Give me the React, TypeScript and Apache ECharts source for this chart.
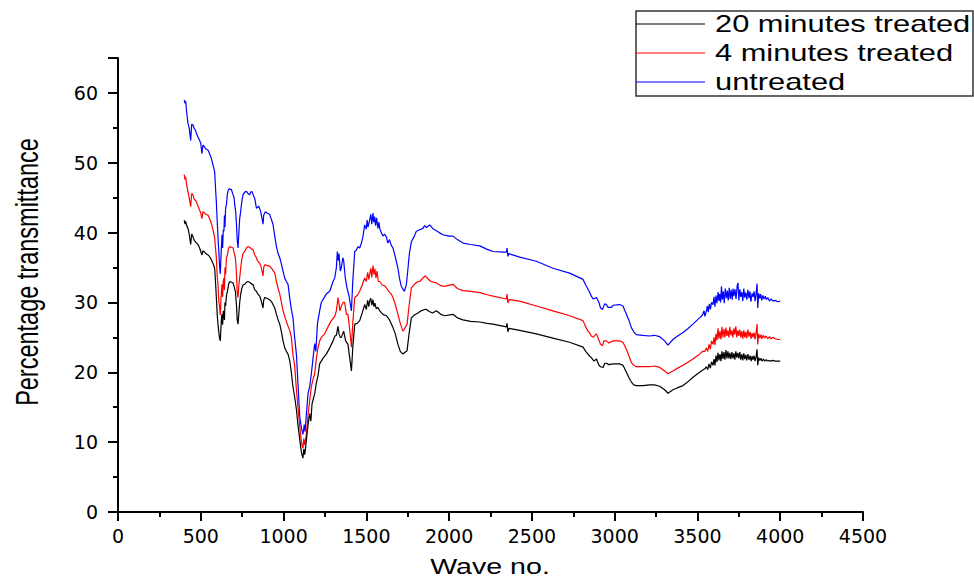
import React, { useEffect, useRef } from "react";
import * as echarts from "echarts";

const seriesNames = ["20 minutes treated", "4 minutes treated", "untreated"];
const seriesColors = ["#000000", "#ff0000", "#0000ff"];
const xTicks = { min: 0, max: 4500, interval: 500 };
const yTicks = { min: 0, max: 65, interval: 10 };

const untreated: number[][] = [
  [400, 59.0], [405, 58.5], [409, 58.8], [415, 57.2], [423, 55.6], [430, 55.0], [439, 53.2], [445, 55.5], [453, 55.4], [460, 54.9], [467, 54.7], [474, 54.2], [483, 53.7], [493, 53.2], [500, 52.8], [507, 51.3], [513, 52.5], [519, 52.4], [530, 52.0], [544, 51.8], [555, 51.2], [564, 50.6], [575, 49.6], [584, 48.7], [590, 46.0], [594, 44.4], [600, 41.3], [606, 38.5], [610, 36.9], [614, 35.0], [618, 34.1], [622, 36.5], [626, 38.5], [628, 39.7], [632, 37.8], [636, 40.4], [640, 40.2], [643, 42.5], [646, 40.8], [650, 43.5], [655, 44.0], [660, 45.4], [664, 45.9], [670, 46.3], [675, 46.2], [685, 46.2], [695, 45.4], [701, 45.0], [706, 43.8], [711, 43.0], [716, 41.0], [720, 39.0], [725, 37.8], [730, 40.0], [735, 42.0], [741, 43.0], [748, 44.5], [755, 45.4], [765, 45.8], [776, 45.9], [785, 45.6], [795, 45.4], [802, 45.8], [809, 45.9], [815, 45.5], [826, 44.9], [836, 43.5], [842, 43.6], [850, 43.8], [856, 43.4], [862, 43.0], [870, 42.0], [876, 41.2], [880, 42.5], [890, 43.0], [900, 42.8], [916, 42.6], [925, 42.0], [936, 41.2], [947, 39.5], [957, 38.0], [967, 37.0], [977, 36.4], [987, 35.5], [997, 34.5], [1007, 33.5], [1017, 33.0], [1027, 32.6], [1037, 30.7], [1047, 29.0], [1057, 27.8], [1067, 25.0], [1078, 22.5], [1087, 18.4], [1098, 13.6], [1108, 12.0], [1117, 11.1], [1125, 12.5], [1130, 11.5], [1138, 14.1], [1148, 17.0], [1158, 18.0], [1168, 19.8], [1178, 22.0], [1188, 24.1], [1195, 23.0], [1205, 27.0], [1218, 28.8], [1228, 30.0], [1238, 30.4], [1258, 31.2], [1279, 31.6], [1299, 33.0], [1309, 33.5], [1319, 35.0], [1325, 37.3], [1329, 36.0], [1335, 37.0], [1343, 34.5], [1349, 35.0], [1358, 36.4], [1363, 36.0], [1373, 33.5], [1383, 32.1], [1395, 31.0], [1410, 28.8], [1418, 33.0], [1430, 37.3], [1440, 37.5], [1450, 38.0], [1460, 37.8], [1470, 38.5], [1480, 39.5], [1490, 41.1], [1500, 40.5], [1505, 41.8], [1510, 40.8], [1520, 41.8], [1527, 42.6], [1533, 41.2], [1540, 42.8], [1545, 41.5], [1550, 42.3], [1556, 41.0], [1562, 42.1], [1570, 40.6], [1576, 41.5], [1581, 40.6], [1590, 40.0], [1600, 39.5], [1610, 39.8], [1621, 39.4], [1630, 38.5], [1640, 39.0], [1650, 38.2], [1661, 37.8], [1670, 37.0], [1680, 36.0], [1691, 34.9], [1700, 33.5], [1710, 32.4], [1721, 31.9], [1730, 31.6], [1742, 32.6], [1750, 34.5], [1760, 37.0], [1772, 38.7], [1790, 39.5], [1802, 40.2], [1822, 40.4], [1842, 40.6], [1852, 41.0], [1863, 40.7], [1872, 40.9], [1883, 41.1], [1900, 40.6], [1913, 40.4], [1940, 40.0], [1963, 39.7], [2000, 39.5], [2023, 39.5], [2050, 39.0], [2084, 38.5], [2130, 38.3], [2185, 38.1], [2230, 37.6], [2265, 37.3], [2330, 37.2], [2346, 37.2], [2350, 37.8], [2355, 36.6], [2360, 37.0], [2426, 36.5], [2527, 35.9], [2627, 34.9], [2728, 34.2], [2809, 33.3], [2825, 32.5], [2839, 31.9], [2850, 31.4], [2859, 30.9], [2870, 30.5], [2890, 30.7], [2905, 30.0], [2915, 29.2], [2926, 29.0], [2940, 29.8], [2950, 29.7], [2960, 29.3], [2980, 29.3], [2990, 29.6], [3030, 29.7], [3050, 29.5], [3071, 28.3], [3085, 27.5], [3101, 26.4], [3115, 25.8], [3131, 25.4], [3170, 25.3], [3211, 25.2], [3240, 25.3], [3272, 25.1], [3302, 24.5], [3322, 23.9], [3352, 24.7], [3380, 25.2], [3413, 25.7], [3440, 26.2], [3473, 26.9], [3495, 27.4], [3513, 27.8], [3530, 28.2], [3540, 28.8], [3545, 28.0], [3554, 28.8], [3560, 29.5], [3565, 28.6], [3572, 29.8], [3578, 29.0], [3585, 30.0], [3594, 29.7], [3600, 30.8], [3606, 29.4], [3612, 31.0], [3618, 29.9], [3625, 31.5], [3630, 30.2], [3634, 31.2], [3640, 30.0], [3645, 32.3], [3650, 30.4], [3656, 31.6], [3662, 29.9], [3668, 32.0], [3675, 30.6], [3680, 31.7], [3686, 30.3], [3692, 32.1], [3698, 30.5], [3704, 31.8], [3710, 30.4], [3715, 32.0], [3720, 30.9], [3727, 31.9], [3733, 30.5], [3740, 32.4], [3745, 32.8], [3750, 30.3], [3756, 31.9], [3762, 30.8], [3768, 31.5], [3774, 30.2], [3780, 32.0], [3786, 30.7], [3792, 31.4], [3798, 30.4], [3805, 31.8], [3811, 30.6], [3817, 31.6], [3823, 30.1], [3830, 31.3], [3836, 30.8], [3842, 31.6], [3848, 30.2], [3854, 31.2], [3860, 32.7], [3864, 29.2], [3870, 31.3], [3876, 30.6], [3882, 31.2], [3888, 30.3], [3895, 31.0], [3902, 30.5], [3910, 30.9], [3916, 30.4], [3925, 30.7], [3935, 30.2], [3945, 30.5], [3956, 30.2], [3970, 30.3], [3985, 30.1], [4000, 30.2],
];

const fourMinutes: number[][] = [
  [400, 48.3], [405, 47.6], [409, 48.0], [415, 46.8], [423, 45.8], [430, 45.0], [439, 43.7], [445, 45.6], [453, 45.4], [460, 44.8], [467, 44.6], [474, 44.4], [483, 43.8], [493, 43.2], [500, 42.8], [507, 42.0], [513, 43.0], [519, 42.9], [530, 42.6], [544, 42.5], [555, 41.9], [564, 41.3], [575, 40.3], [584, 39.2], [590, 37.5], [594, 36.4], [600, 33.5], [604, 32.6], [608, 30.5], [614, 29.2], [618, 28.2], [622, 30.5], [626, 32.0], [628, 32.6], [632, 30.8], [636, 33.0], [640, 33.5], [643, 31.8], [646, 35.0], [650, 34.0], [655, 36.4], [661, 36.8], [668, 37.8], [675, 38.0], [685, 37.9], [695, 37.8], [701, 37.2], [709, 36.4], [716, 34.0], [720, 31.5], [725, 30.7], [730, 32.5], [735, 33.5], [741, 34.9], [748, 36.2], [755, 37.0], [765, 37.3], [776, 37.8], [785, 38.0], [795, 37.9], [809, 37.6], [815, 37.6], [826, 36.8], [836, 36.4], [842, 36.0], [856, 35.6], [862, 35.3], [870, 34.5], [876, 33.8], [880, 35.0], [886, 35.4], [900, 35.3], [916, 35.2], [930, 34.8], [947, 34.2], [957, 33.0], [967, 32.0], [977, 31.2], [987, 30.0], [997, 28.8], [1007, 28.0], [1017, 27.3], [1027, 26.6], [1037, 26.0], [1047, 25.0], [1057, 22.5], [1067, 21.0], [1078, 17.4], [1087, 15.0], [1098, 12.2], [1108, 10.0], [1117, 9.1], [1122, 10.5], [1128, 9.6], [1138, 11.2], [1148, 14.0], [1158, 16.0], [1168, 18.0], [1178, 19.0], [1188, 19.8], [1198, 22.0], [1208, 23.5], [1218, 24.5], [1228, 25.0], [1248, 25.5], [1268, 26.5], [1289, 27.4], [1309, 28.0], [1319, 28.8], [1329, 30.7], [1335, 29.8], [1340, 28.8], [1349, 29.5], [1360, 30.0], [1369, 30.0], [1380, 28.3], [1389, 28.3], [1400, 26.0], [1410, 23.6], [1418, 27.0], [1430, 30.7], [1445, 31.0], [1460, 31.6], [1475, 32.5], [1490, 33.5], [1500, 33.0], [1508, 34.3], [1515, 33.3], [1520, 34.0], [1527, 34.9], [1533, 33.6], [1540, 35.3], [1546, 34.0], [1552, 34.8], [1558, 33.5], [1565, 34.5], [1572, 33.0], [1581, 33.0], [1595, 32.5], [1610, 32.4], [1621, 32.1], [1635, 31.6], [1650, 31.2], [1661, 30.7], [1675, 29.7], [1691, 28.3], [1705, 27.0], [1721, 25.9], [1730, 26.2], [1746, 26.9], [1758, 29.5], [1772, 32.1], [1790, 32.6], [1812, 33.0], [1822, 33.0], [1842, 33.5], [1855, 33.8], [1872, 33.4], [1890, 33.0], [1923, 32.8], [1950, 32.4], [1973, 32.3], [2023, 32.6], [2050, 32.0], [2084, 31.7], [2130, 31.6], [2185, 31.4], [2230, 31.1], [2265, 30.9], [2346, 30.5], [2350, 31.2], [2355, 29.9], [2362, 30.4], [2426, 30.2], [2527, 29.5], [2627, 28.8], [2728, 28.1], [2809, 27.4], [2825, 26.5], [2839, 25.9], [2850, 25.6], [2859, 25.2], [2870, 25.0], [2890, 25.5], [2905, 24.6], [2915, 24.0], [2926, 23.8], [2935, 24.5], [2950, 24.5], [2965, 24.2], [2990, 24.5], [3030, 24.5], [3050, 24.3], [3071, 23.3], [3085, 22.4], [3101, 21.4], [3115, 21.0], [3131, 20.8], [3170, 20.8], [3211, 20.8], [3240, 20.9], [3272, 20.7], [3302, 20.2], [3322, 19.8], [3352, 20.2], [3380, 20.6], [3413, 21.0], [3440, 21.4], [3473, 21.9], [3495, 22.3], [3513, 22.6], [3530, 23.0], [3545, 23.0], [3554, 23.5], [3562, 23.0], [3570, 24.0], [3578, 23.3], [3585, 24.5], [3594, 24.0], [3600, 25.0], [3606, 23.9], [3612, 25.5], [3618, 24.6], [3624, 26.3], [3630, 24.8], [3636, 25.9], [3642, 24.7], [3648, 26.5], [3654, 25.0], [3660, 26.2], [3666, 25.0], [3672, 26.4], [3678, 25.2], [3684, 26.0], [3690, 25.0], [3696, 26.5], [3702, 25.3], [3708, 26.0], [3714, 25.0], [3720, 26.3], [3726, 25.4], [3732, 26.6], [3738, 25.0], [3744, 26.0], [3750, 25.2], [3756, 26.1], [3762, 25.0], [3768, 25.9], [3774, 24.8], [3780, 26.0], [3786, 25.0], [3792, 25.8], [3798, 24.9], [3805, 26.1], [3811, 25.1], [3818, 25.8], [3824, 24.8], [3830, 25.6], [3836, 25.0], [3842, 25.7], [3848, 24.7], [3854, 25.6], [3860, 26.9], [3864, 24.0], [3870, 25.5], [3877, 24.9], [3884, 25.4], [3890, 24.8], [3898, 25.3], [3906, 24.9], [3915, 25.2], [3925, 24.8], [3935, 25.1], [3945, 24.8], [3956, 25.0], [3970, 24.8], [3985, 24.7], [4000, 24.7],
];

const twentyMinutes: number[][] = [
  [400, 41.8], [405, 41.2], [409, 41.6], [415, 41.0], [423, 40.6], [430, 39.8], [439, 38.3], [445, 39.8], [453, 39.4], [460, 38.9], [467, 38.7], [474, 38.5], [483, 38.3], [493, 37.8], [500, 37.3], [507, 36.8], [513, 37.4], [519, 37.3], [530, 37.0], [544, 36.8], [555, 36.5], [564, 36.1], [575, 35.5], [584, 34.9], [590, 32.5], [594, 30.7], [600, 28.0], [604, 26.9], [610, 25.5], [614, 24.8], [618, 24.5], [622, 26.5], [626, 28.0], [628, 28.3], [632, 26.8], [636, 28.8], [640, 28.8], [643, 27.5], [646, 30.0], [650, 29.5], [655, 31.0], [661, 31.6], [668, 32.6], [675, 33.0], [685, 32.9], [695, 32.8], [701, 32.3], [709, 31.6], [716, 29.5], [720, 27.5], [725, 26.9], [730, 28.5], [735, 30.0], [741, 31.2], [748, 32.0], [755, 32.5], [765, 32.6], [776, 32.9], [785, 33.0], [795, 32.9], [809, 32.6], [815, 32.6], [826, 31.8], [836, 31.6], [842, 31.3], [856, 30.9], [862, 30.5], [870, 29.8], [876, 29.2], [880, 30.3], [886, 30.7], [900, 30.6], [916, 30.4], [930, 30.0], [947, 29.2], [957, 28.3], [967, 27.5], [977, 26.9], [987, 25.8], [997, 24.5], [1007, 23.5], [1017, 23.0], [1027, 22.6], [1037, 21.7], [1047, 20.0], [1057, 17.9], [1067, 16.5], [1078, 14.6], [1087, 12.5], [1098, 10.3], [1108, 8.5], [1117, 7.7], [1122, 9.0], [1128, 8.2], [1138, 10.3], [1148, 12.5], [1158, 14.1], [1165, 13.0], [1172, 15.5], [1188, 16.9], [1198, 18.5], [1208, 19.5], [1218, 21.2], [1238, 22.0], [1258, 22.6], [1279, 23.5], [1299, 24.5], [1310, 25.2], [1319, 25.3], [1329, 26.6], [1335, 25.5], [1343, 25.0], [1349, 25.0], [1363, 25.9], [1375, 24.5], [1389, 24.0], [1400, 22.0], [1410, 20.2], [1418, 23.5], [1430, 26.9], [1445, 27.0], [1460, 27.4], [1475, 28.5], [1490, 29.7], [1500, 29.0], [1508, 30.3], [1515, 29.4], [1520, 30.2], [1527, 30.6], [1533, 29.6], [1540, 30.4], [1546, 29.4], [1552, 29.9], [1560, 29.1], [1570, 29.3], [1581, 28.8], [1600, 28.3], [1621, 28.1], [1640, 27.5], [1661, 26.4], [1675, 25.5], [1691, 24.0], [1705, 23.0], [1721, 22.6], [1730, 22.8], [1746, 23.1], [1758, 25.5], [1772, 27.8], [1790, 28.2], [1812, 28.5], [1830, 28.8], [1852, 29.0], [1863, 29.0], [1880, 28.7], [1900, 28.5], [1923, 28.8], [1950, 28.3], [1973, 28.1], [2023, 28.3], [2050, 27.8], [2084, 27.5], [2130, 27.3], [2185, 27.2], [2230, 27.0], [2265, 26.9], [2346, 26.5], [2350, 27.0], [2355, 25.8], [2362, 26.3], [2426, 26.0], [2527, 25.5], [2627, 24.9], [2728, 24.3], [2809, 23.6], [2825, 23.0], [2839, 22.6], [2850, 22.3], [2859, 22.1], [2875, 21.6], [2890, 21.9], [2905, 21.0], [2915, 20.8], [2930, 20.7], [2940, 21.3], [2950, 21.3], [2965, 21.1], [2990, 21.2], [3030, 21.2], [3050, 21.0], [3071, 20.0], [3085, 19.3], [3101, 18.6], [3115, 18.2], [3131, 18.1], [3170, 18.1], [3211, 18.2], [3240, 18.2], [3272, 18.0], [3302, 17.5], [3322, 17.0], [3352, 17.5], [3380, 17.8], [3413, 18.1], [3440, 18.6], [3473, 19.3], [3495, 19.7], [3513, 20.0], [3530, 20.3], [3545, 20.5], [3554, 20.8], [3562, 20.4], [3570, 21.2], [3578, 20.6], [3585, 21.5], [3594, 21.0], [3600, 21.9], [3606, 21.0], [3612, 22.4], [3618, 21.5], [3624, 22.8], [3630, 21.7], [3636, 22.6], [3642, 21.6], [3648, 23.0], [3654, 21.9], [3660, 22.9], [3666, 21.8], [3672, 23.2], [3678, 22.0], [3684, 23.0], [3690, 22.0], [3696, 22.8], [3702, 21.9], [3708, 22.9], [3714, 22.0], [3720, 22.7], [3726, 21.8], [3732, 23.0], [3738, 22.1], [3744, 22.8], [3750, 22.0], [3756, 22.9], [3762, 21.8], [3768, 22.6], [3774, 21.7], [3780, 22.7], [3786, 21.9], [3792, 22.5], [3798, 21.7], [3805, 22.6], [3811, 21.8], [3818, 22.4], [3824, 21.6], [3830, 22.3], [3836, 21.8], [3842, 22.4], [3848, 21.6], [3854, 22.2], [3860, 23.3], [3864, 21.0], [3870, 22.1], [3877, 21.7], [3884, 22.0], [3890, 21.6], [3898, 21.9], [3906, 21.6], [3915, 21.8], [3925, 21.6], [3935, 21.7], [3945, 21.6], [3956, 21.7], [3970, 21.6], [3985, 21.6], [4000, 21.6],
];

const xTitle = "Wave no.";
const yTitle = "Percentage transmittance";

export default function App() {
  const ref = useRef<HTMLDivElement>(null);

  useEffect(() => {
    if (!ref.current) return;
    const chart = echarts.init(ref.current, undefined, { renderer: "svg" });
    const font = "'Liberation Sans', Arial, sans-serif";
    const tickFont = "'DejaVu Sans', sans-serif";
    const dataSets = [twentyMinutes, fourMinutes, untreated];
    const legendRows = [24, 53, 82];

    const legendGraphics: any[] = [
      {
        type: "rect",
        shape: { x: 636, y: 11, width: 337, height: 85 },
        style: { fill: "none", stroke: "#333", lineWidth: 1.5 },
      },
    ];
    seriesNames.forEach((name, i) => {
      legendGraphics.push({
        type: "line",
        shape: { x1: 636, y1: legendRows[i], x2: 705, y2: legendRows[i] },
        style: { stroke: seriesColors[i], lineWidth: 1 },
      });
      legendGraphics.push({
        type: "text",
        x: 715,
        y: legendRows[i],
        scaleX: 1.34,
        style: {
          text: name,
          fontFamily: font,
          fontSize: 23,
          fill: "#000",
          textAlign: "left",
          textVerticalAlign: "middle",
        },
      });
    });

    const axisCommon = {
      axisLine: { show: true, lineStyle: { color: "#000", width: 2 } },
      axisTick: { show: true, inside: false, lineStyle: { color: "#000", width: 2 } },
      minorTick: { show: true, splitNumber: 2, lineStyle: { color: "#000", width: 2 } },
      splitLine: { show: false },
      minorSplitLine: { show: false },
    };

    chart.setOption({
      animation: false,
      backgroundColor: "#ffffff",
      grid: { left: 118, right: 111, top: 58, bottom: 67, containLabel: false },
      xAxis: {
        type: "value",
        min: xTicks.min,
        max: xTicks.max,
        interval: xTicks.interval,
        ...axisCommon,
        axisTick: { ...axisCommon.axisTick, length: 9 },
        minorTick: { ...axisCommon.minorTick, length: 5 },
        axisLabel: {
          color: "#000",
          fontSize: 19,
          fontFamily: tickFont,
          margin: 14,
          formatter: (v: number) => String(v),
        },
      },
      yAxis: {
        type: "value",
        min: yTicks.min,
        max: yTicks.max,
        interval: yTicks.interval,
        ...axisCommon,
        axisTick: { ...axisCommon.axisTick, length: 10 },
        minorTick: { ...axisCommon.minorTick, length: 5 },
        axisLabel: {
          color: "#000",
          fontSize: 19,
          fontFamily: tickFont,
          margin: 20,
          showMaxLabel: false,
          formatter: (v: number) => (v > 60 ? "" : String(v)),
        },
      },
      series: [2, 1, 0].map((i) => ({
        name: seriesNames[i],
        type: "line",
        data: dataSets[i],
        showSymbol: false,
        symbol: "none",
        lineStyle: { color: seriesColors[i], width: 1.2 },
        itemStyle: { color: seriesColors[i] },
        z: 2 + (2 - i),
      })),
      graphic: [
        ...legendGraphics,
        {
          type: "text",
          x: 490,
          y: 566,
          scaleX: 1.3,
          style: {
            text: xTitle,
            fontFamily: font,
            fontSize: 22,
            fill: "#000",
            textAlign: "center",
            textVerticalAlign: "middle",
          },
        },
        {
          type: "text",
          x: 27,
          y: 272,
          rotation: Math.PI / 2,
          scaleY: 1.3,
          style: {
            text: yTitle,
            fontFamily: font,
            fontSize: 23.5,
            fill: "#000",
            textAlign: "center",
            textVerticalAlign: "middle",
          },
        },
      ],
    });

    return () => chart.dispose();
  }, []);

  return (
    <div
      ref={ref}
      style={{ position: "fixed", left: 0, top: 0, width: 974, height: 579, background: "#fff" }}
    />
  );
}
